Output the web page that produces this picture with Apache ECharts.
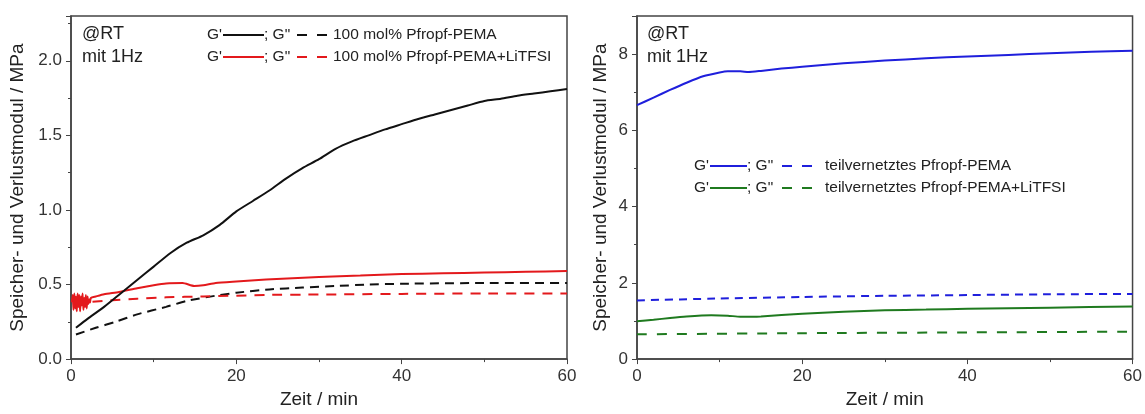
<!DOCTYPE html>
<html>
<head>
<meta charset="utf-8">
<script src="https://cdn.jsdelivr.net/npm/echarts@6/dist/echarts.min.js"></script>
<style>
  html, body { margin: 0; padding: 0; background: #fff; }
  #main { width: 1145px; height: 414px; }
</style>
</head>
<body>
<div id="main"></div>
<script>
// ---- data (time in min, modulus in MPa) ----
// left panel: 100 mol% Pfropf-PEMA
var blackGpT = [0.6, 2, 4, 6, 8, 10, 12, 14, 16, 18, 20, 22, 24, 26, 28, 30, 32, 34, 36, 38, 40, 42, 44, 46, 48, 50, 52, 54, 56, 58, 60];
var blackGpV = [0.21, 0.27, 0.35, 0.44, 0.53, 0.62, 0.71, 0.78, 0.83, 0.90, 0.99, 1.06, 1.13, 1.21, 1.28, 1.34, 1.41, 1.46, 1.50, 1.54, 1.575, 1.61, 1.64, 1.67, 1.70, 1.73, 1.745, 1.765, 1.78, 1.795, 1.81];
var blackGppT = [0.6, 3, 5.4, 8, 11.5, 14, 17.5, 20, 24, 28, 32, 36, 40, 50, 60];
var blackGppV = [0.165, 0.21, 0.25, 0.30, 0.35, 0.39, 0.425, 0.445, 0.467, 0.48, 0.49, 0.50, 0.505, 0.51, 0.51];
// left panel: 100 mol% Pfropf-PEMA+LiTFSI (start is noisy)
var redGpT = [0.1, 0.2, 0.3, 0.4, 0.5, 0.6, 0.7, 0.8, 0.9, 1.0, 1.1, 1.2, 1.3, 1.4, 1.5, 1.6, 1.7, 1.8, 1.9, 2.0, 2.1, 2.2, 2.3, 2.4, 3, 4, 5.8, 8, 10, 11.5, 13.5, 14.9, 16, 17.5, 20, 23.6, 30, 35, 40, 45, 50, 55, 60];
var redGpV = [0.38, 0.43, 0.33, 0.44, 0.34, 0.42, 0.32, 0.44, 0.35, 0.43, 0.32, 0.42, 0.36, 0.44, 0.33, 0.41, 0.35, 0.43, 0.34, 0.42, 0.37, 0.40, 0.38, 0.41, 0.42, 0.435, 0.45, 0.475, 0.495, 0.507, 0.51, 0.49, 0.495, 0.51, 0.52, 0.533, 0.55, 0.56, 0.57, 0.575, 0.58, 0.585, 0.59];
var redGppT = [2.6, 5, 8, 11.5, 16, 23.6, 30, 40, 50, 60];
var redGppV = [0.385, 0.395, 0.405, 0.414, 0.42, 0.43, 0.433, 0.437, 0.44, 0.44];
// right panel: teilvernetztes Pfropf-PEMA
var blueGpT = [0, 2, 4, 6, 8, 10, 11, 12.5, 13.5, 15, 17.5, 20, 25, 30, 35, 40, 45, 50, 55, 60];
var blueGpV = [6.66, 6.86, 7.06, 7.25, 7.42, 7.52, 7.55, 7.55, 7.53, 7.56, 7.62, 7.67, 7.76, 7.83, 7.89, 7.94, 7.98, 8.02, 8.06, 8.09];
var blueGppT = [0, 10, 20, 30, 40, 50, 60];
var blueGppV = [1.54, 1.59, 1.63, 1.66, 1.68, 1.70, 1.71];
// right panel: teilvernetztes Pfropf-PEMA+LiTFSI
var greenGpT = [0, 2, 4, 6, 9, 11, 12.5, 15, 20, 25, 30, 35, 40, 50, 60];
var greenGpV = [0.99, 1.03, 1.08, 1.12, 1.15, 1.14, 1.11, 1.12, 1.19, 1.24, 1.28, 1.30, 1.32, 1.35, 1.38];
var greenGppT = [0, 20, 40, 60];
var greenGppV = [0.65, 0.68, 0.70, 0.72];

var leftLabels = ['100 mol% Pfropf-PEMA', '100 mol% Pfropf-PEMA+LiTFSI'];
var rightLabels = ['teilvernetztes Pfropf-PEMA', 'teilvernetztes Pfropf-PEMA+LiTFSI'];
var xTicks = { min: 0, max: 60, interval: 20 };

function pairs(t, v) {
    var out = [];
    for (var i = 0; i < t.length; i++) out.push([t[i], v[i]]);
    return out;
}

var FONT = '"Liberation Sans", Arial, sans-serif';
var axisCol = '#444';

function xAxisCfg(idx) {
    return {
        type: 'value', gridIndex: idx, min: xTicks.min, max: xTicks.max, interval: xTicks.interval,
        name: 'Zeit / min', nameLocation: 'middle', nameGap: 25,
        nameTextStyle: { fontFamily: FONT, fontSize: 19, color: '#222' },
        axisLine: { show: true, onZero: false, lineStyle: { color: axisCol, width: 1.5 } },
        axisTick: { show: true, inside: false, length: 5, lineStyle: { color: axisCol } },
        minorTick: { show: true, splitNumber: 2, length: 3, lineStyle: { color: axisCol } },
        splitLine: { show: false },
        axisLabel: { fontFamily: FONT, fontSize: 17, color: '#333', margin: 9 }
    };
}

function yAxisCfg(idx, max, interval, digits, gap) {
    return {
        type: 'value', gridIndex: idx, min: 0, max: max, interval: interval,
        name: 'Speicher- und Verlustmodul / MPa', nameLocation: 'middle', nameGap: gap,
        nameTextStyle: { fontFamily: FONT, fontSize: 19, color: '#222' },
        axisLine: { show: true, onZero: false, lineStyle: { color: axisCol, width: 1.5 } },
        axisTick: { show: true, inside: false, length: 5, lineStyle: { color: axisCol } },
        minorTick: { show: true, splitNumber: 2, length: 3, lineStyle: { color: axisCol } },
        splitLine: { show: false },
        axisLabel: {
            fontFamily: FONT, fontSize: 17, color: '#333', margin: 9, showMaxLabel: false,
            formatter: function (v) { return v.toFixed(digits); }
        }
    };
}

function line(xi, data, color, dash, z) {
    return {
        type: 'line', xAxisIndex: xi, yAxisIndex: xi, data: data, symbol: 'none',
        smooth: 0.2, z: z || 2, animation: false,
        lineStyle: { color: color, width: 2, type: dash || 'solid' }
    };
}

// custom legend: "G' ——; G'' – – label"
// pos = [line start, line end, dashes start, dashes end, label start]
function legendRow(x0, y, color, label, pos) {
    var t = { font: '15.5px ' + FONT, fill: '#222', verticalAlign: 'middle' };
    return [
        { type: 'text', x: x0 + pos[0] - 1, y: y, style: Object.assign({ text: "G'", align: 'right' }, t) },
        { type: 'line', shape: { x1: x0 + pos[0], y1: y, x2: x0 + pos[1], y2: y }, style: { stroke: color, lineWidth: 2 } },
        { type: 'text', x: x0 + pos[1], y: y, style: Object.assign({ text: '; G"' }, t) },
        { type: 'line', shape: { x1: x0 + pos[2], y1: y, x2: x0 + pos[3], y2: y }, style: { stroke: color, lineWidth: 2, lineDash: [10, 10] } },
        { type: 'text', x: x0 + pos[4], y: y, style: Object.assign({ text: label }, t) }
    ];
}

function note(x, y, txt) {
    return { type: 'text', x: x, y: y, style: { text: txt, font: '18px ' + FONT, fill: '#222', verticalAlign: 'middle' } };
}

var posL = [0, 41, 74, 104, 110];
var posR = [0, 37, 72, 105, 115];

var graphics = [note(82, 34, '@RT'), note(82, 57, 'mit 1Hz'), note(647, 34, '@RT'), note(647, 57, 'mit 1Hz')]
    .concat(legendRow(223, 35, '#111', leftLabels[0], posL))
    .concat(legendRow(223, 57, '#e3191c', leftLabels[1], posL))
    .concat(legendRow(710, 166, '#1f1fdc', rightLabels[0], posR))
    .concat(legendRow(710, 188, '#1f7a1f', rightLabels[1], posR));

var chart = echarts.init(document.getElementById('main'), null, { renderer: 'canvas' });
chart.setOption({
    backgroundColor: '#fff',
    animation: false,
    grid: [
        { left: 71, right: 578, top: 16, bottom: 51, show: true, borderColor: axisCol, borderWidth: 1.5, backgroundColor: 'transparent' },
        { left: 637, right: 12, top: 16, bottom: 51, show: true, borderColor: axisCol, borderWidth: 1.5, backgroundColor: 'transparent' }
    ],
    xAxis: [xAxisCfg(0), xAxisCfg(1)],
    yAxis: [yAxisCfg(0, 2.3, 0.5, 1, 44), yAxisCfg(1, 9, 2, 0, 27)],
    series: [
        line(0, pairs(blackGppT, blackGppV), '#111', [9, 6]),
        line(0, pairs(redGppT, redGppV), '#e3191c', [10, 8]),
        line(0, pairs(redGpT, redGpV), '#e3191c', 'solid', 3),
        line(0, pairs(blackGpT, blackGpV), '#111', 'solid', 4),
        line(1, pairs(blueGpT, blueGpV), '#1f1fdc'),
        line(1, pairs(blueGppT, blueGppV), '#1f1fdc', [8, 6]),
        line(1, pairs(greenGpT, greenGpV), '#1f7a1f'),
        line(1, pairs(greenGppT, greenGppV), '#1f7a1f', [10, 10])
    ],
    graphic: graphics
});
</script>
</body>
</html>
